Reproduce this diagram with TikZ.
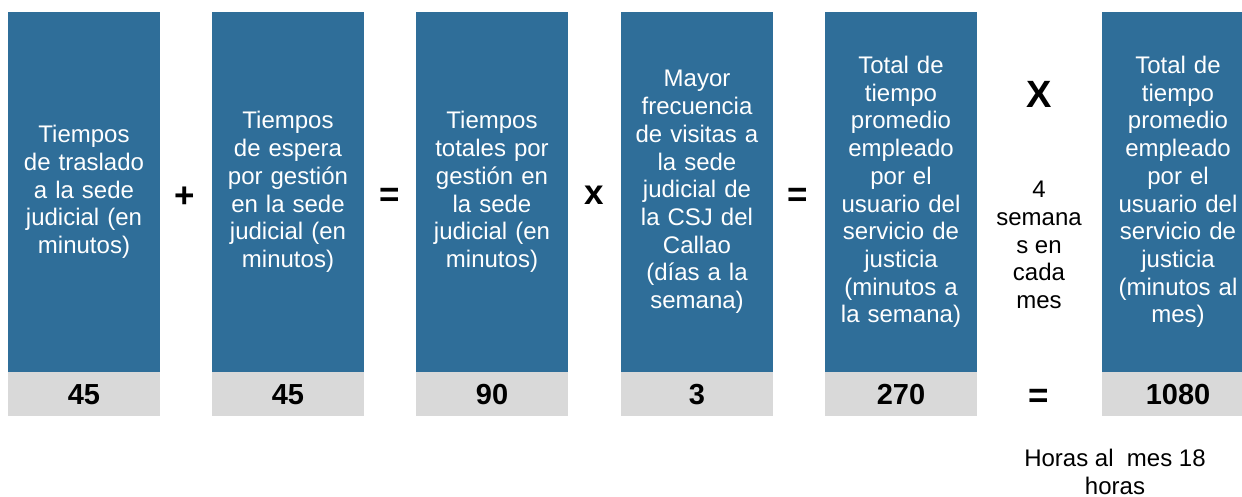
\documentclass[tikz,border=0pt]{standalone}
\usepackage{fontspec}
\setmainfont{Liberation Sans}
\usepackage{xcolor}
\usetikzlibrary{positioning}

\definecolor{boxblue}{HTML}{2F6E99}
\definecolor{boxgrey}{HTML}{D9D9D9}

\begin{document}
\begin{tikzpicture}[x=1pt, y=-1pt,
    concept/.style={fill=boxblue, text=white, inner sep=0pt,
      minimum width=152pt, minimum height=360pt, text width=150pt,
      align=center, font=\fontsize{24}{27.7}\selectfont},
    amount/.style={fill=boxgrey, inner sep=0pt, minimum width=152pt,
      minimum height=43.7pt, font=\bfseries\fontsize{29}{30}\selectfont},
    operator/.style={inner sep=0pt, font=\bfseries\fontsize{35}{37}\selectfont},
    note/.style={inner sep=0pt, align=center, font=\fontsize{24}{27.7}\selectfont}]

      % Fix the frame of the picture
      \clip (0,0) rectangle (1242,497);

      % Blue boxes with the quantities
      \node[concept] (traslado) at (84,192)
        {Tiempos\\de traslado\\a la sede\\judicial (en\\minutos)};
      \node[concept] (espera) at (288,192)
        {Tiempos\\de espera\\por gestión\\en la sede\\judicial (en\\minutos)};
      \node[concept] (totales) at (492,192)
        {Tiempos\\totales por\\gestión en\\la sede\\judicial (en\\minutos)};
      \node[concept] (frecuencia) at (697,192)
        {Mayor\\frecuencia\\de visitas a\\la sede\\judicial de\\la CSJ del\\Callao\\(días a la\\semana)};
      \node[concept] (semanal) at (901,192)
        {Total de\\tiempo\\promedio\\empleado\\por el\\usuario del\\servicio de\\justicia\\(minutos a\\la semana)};
      \node[concept] (mensual) at (1178,192)
        {Total de\\tiempo\\promedio\\empleado\\por el\\usuario del\\servicio de\\justicia\\(minutos al\\mes)};

      % Grey boxes with the values
      \node[amount, below=0pt of traslado] (vtraslado) {45};
      \node[amount, below=0pt of espera] (vespera) {45};
      \node[amount, below=0pt of totales] (vtotales) {90};
      \node[amount, below=0pt of frecuencia] (vfrecuencia) {3};
      \node[amount, below=0pt of semanal] (vsemanal) {270};
      \node[amount, below=0pt of mensual] (vmensual) {1080};

      % Operators between the boxes
      \node[operator] (plus) at (185,197) {+};
      \node[operator] (eqa) at (390,197) {=};
      \node[operator] (times) at (594,195) {x};
      \node[operator] (eqb) at (798,197) {=};
      \node[operator, font=\bfseries\fontsize{38}{40}\selectfont] (bigtimes) at (1039,94) {X};
      \node[operator] (eqc) at (1039,398) {=};

      % Weeks per month and result in hours
      \node[note] (semanas) at (1039,245) {4\\semana\\s en\\cada\\mes};
      \node[note] (horas) at (1115,472) {Horas al~ mes 18\\horas};
\end{tikzpicture}
\end{document}
